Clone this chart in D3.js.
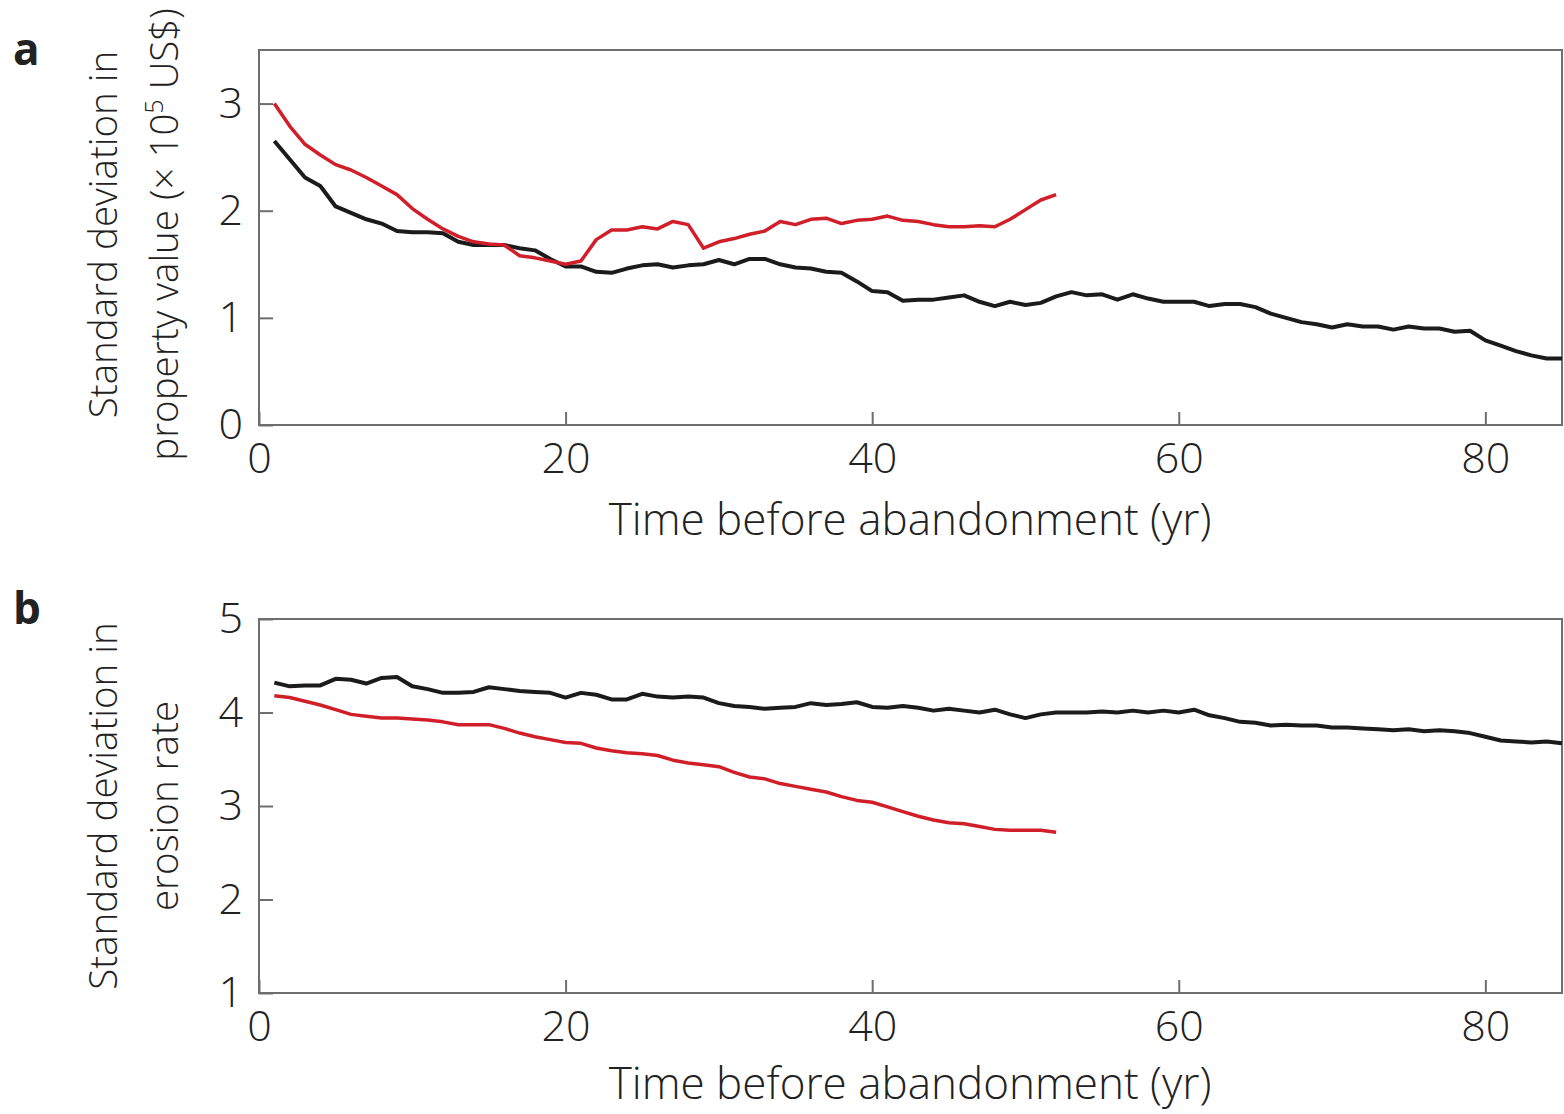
<!DOCTYPE html>
<html>
<head>
<meta charset="utf-8">
<script src="https://cdn.jsdelivr.net/npm/d3@7"></script>
<style>
  body { margin: 0; background: #fff; }
  svg text { font-family: "Open Sans", "DejaVu Sans", sans-serif; fill: #222; }
</style>
</head>
<body>
<svg id="svg" width="1564" height="1114"></svg>
<script>
// years before abandonment
var years = [1,2,3,4,5,6,7,8,9,10,11,12,13,14,15,16,17,18,19,20,21,22,23,24,25,26,27,28,29,30,
  31,32,33,34,35,36,37,38,39,40,41,42,43,44,45,46,47,48,49,50,51,52,53,54,55,56,57,58,59,60,
  61,62,63,64,65,66,67,68,69,70,71,72,73,74,75,76,77,78,79,80,81,82,83,84,85];

// panel a: property value (x 10^5 US$)
var propBlack = [2.65,2.48,2.31,2.23,2.04,1.98,1.92,1.88,1.81,1.80,1.80,1.79,1.71,1.68,1.68,1.68,1.65,1.63,1.55,1.48,
  1.48,1.43,1.42,1.46,1.49,1.50,1.47,1.49,1.50,1.54,1.50,1.55,1.55,1.50,1.47,1.46,1.43,1.42,1.34,1.25,
  1.24,1.16,1.17,1.17,1.19,1.21,1.15,1.11,1.15,1.12,1.14,1.20,1.24,1.21,1.22,1.17,1.22,1.18,1.15,1.15,
  1.15,1.11,1.13,1.13,1.10,1.04,1.00,0.96,0.94,0.91,0.94,0.92,0.92,0.89,0.92,0.90,0.90,0.87,0.88,0.79,
  0.74,0.69,0.65,0.62,0.62];
var propRed = [3.00,2.79,2.62,2.52,2.43,2.38,2.31,2.23,2.15,2.02,1.92,1.83,1.76,1.71,1.69,1.68,1.58,1.56,1.53,1.50,
  1.53,1.73,1.82,1.82,1.85,1.83,1.90,1.87,1.65,1.71,1.74,1.78,1.81,1.90,1.87,1.92,1.93,1.88,1.91,1.92,
  1.95,1.91,1.90,1.87,1.85,1.85,1.86,1.85,1.92,2.01,2.10,2.15];

// panel b: erosion rate
var eroBlack = [4.32,4.28,4.29,4.29,4.36,4.35,4.31,4.37,4.38,4.28,4.25,4.21,4.21,4.22,4.27,4.25,4.23,4.22,4.21,4.16,
  4.21,4.19,4.14,4.14,4.20,4.17,4.16,4.17,4.16,4.10,4.07,4.06,4.04,4.05,4.06,4.10,4.08,4.09,4.11,4.06,
  4.05,4.07,4.05,4.02,4.04,4.02,4.00,4.03,3.98,3.94,3.98,4.00,4.00,4.00,4.01,4.00,4.02,4.00,4.02,4.00,
  4.03,3.97,3.94,3.90,3.89,3.86,3.87,3.86,3.86,3.84,3.84,3.83,3.82,3.81,3.82,3.80,3.81,3.80,3.78,3.74,
  3.70,3.69,3.68,3.69,3.67];
var eroRed = [4.18,4.16,4.12,4.08,4.03,3.98,3.96,3.94,3.94,3.93,3.92,3.90,3.87,3.87,3.87,3.83,3.78,3.74,3.71,3.68,
  3.67,3.62,3.59,3.57,3.56,3.54,3.49,3.46,3.44,3.42,3.36,3.31,3.29,3.24,3.21,3.18,3.15,3.10,3.06,3.04,
  2.99,2.94,2.89,2.85,2.82,2.81,2.78,2.75,2.74,2.74,2.74,2.72];

var xTicks = [0, 20, 40, 60, 80];
var yTicksA = [0, 1, 2, 3];
var yTicksB = [1, 2, 3, 4, 5];

var svg = d3.select("#svg");
var left = 259, right = 1562;
var frameCol = "#6e6e6e";

var panel = function(cfg) {
    var g = svg.append("g");
    var x = d3.scaleLinear().domain([0, 85]).range([left, right]);
    var y = d3.scaleLinear().domain(cfg.yDomain).range([cfg.bottom, cfg.top]);

    // x axis, ticks pointing inward
    var xa = g.append("g")
        .attr("transform", "translate(0," + cfg.bottom + ")")
        .call(d3.axisBottom(x).tickValues(xTicks).tickSize(-13).tickPadding(17).tickFormat(d3.format("d")));
    xa.select(".domain").remove();
    xa.selectAll("line").attr("stroke", frameCol).attr("stroke-width", 2);
    xa.selectAll("text").attr("font-size", 43).attr("font-weight", 300).attr("fill", "#222");

    var ya = g.append("g")
        .attr("transform", "translate(" + left + ",0)")
        .call(d3.axisLeft(y).tickValues(cfg.yTicks).tickSize(-14).tickPadding(16).tickFormat(d3.format("d")));
    ya.select(".domain").remove();
    ya.selectAll("line").attr("stroke", frameCol).attr("stroke-width", 2);
    ya.selectAll("text").attr("font-size", 43).attr("font-weight", 300).attr("fill", "#222");

    // frame
    g.append("rect")
        .attr("x", left).attr("y", cfg.top)
        .attr("width", right - left).attr("height", cfg.bottom - cfg.top)
        .attr("fill", "none").attr("stroke", frameCol).attr("stroke-width", 2);

    var line = d3.line()
        .x(function(d, i) { return x(years[i]); })
        .y(function(d) { return y(d); });

    g.append("path").datum(cfg.black)
        .attr("d", line).attr("fill", "none")
        .attr("stroke", "#1b1b1b").attr("stroke-width", 4).attr("stroke-linejoin", "round");
    g.append("path").datum(cfg.red)
        .attr("d", line).attr("fill", "none")
        .attr("stroke", "#d11f2a").attr("stroke-width", 3.5).attr("stroke-linejoin", "round");

    // x title
    g.append("text")
        .attr("x", 910).attr("y", cfg.bottom + cfg.xTitleDy)
        .attr("text-anchor", "middle")
        .attr("font-size", 44).attr("font-weight", 300)
        .text("Time before abandonment (yr)");

    // y title (two lines)
    var cy = (cfg.top + cfg.bottom) / 2 + cfg.titleShift;
    g.append("text")
        .attr("transform", "translate(117," + cy + ")rotate(-90)")
        .attr("text-anchor", "middle")
        .attr("font-size", 38.5).attr("font-weight", 300)
        .text("Standard deviation in");
    var t2 = g.append("text")
        .attr("transform", "translate(178," + cy + ")rotate(-90)")
        .attr("text-anchor", "middle")
        .attr("font-size", 38.5).attr("font-weight", 300);
    cfg.title2(t2);

    // panel letter
    g.append("text")
        .attr("x", 13).attr("y", cfg.top + cfg.letterDy)
        .attr("font-size", 44).attr("font-weight", 700)
        .attr("fill", "#111")
        .text(cfg.letter);
};

panel({
    top: 50, bottom: 425, yDomain: [0, 3.5], yTicks: yTicksA,
    black: propBlack, red: propRed, letter: "a", letterDy: 15, titleShift: -3, xTitleDy: 110,
    title2: function(t) {
        t.append("tspan").text("property value (\u00d7 10");
        t.append("tspan").attr("font-size", 25).attr("dy", -15).text("5");
        t.append("tspan").attr("dy", 15).text(" US$)");
    }
});

panel({
    top: 619, bottom: 993, yDomain: [1, 5], yTicks: yTicksB,
    black: eroBlack, red: eroRed, letter: "b", letterDy: 5, titleShift: 0, xTitleDy: 106,
    title2: function(t) { t.text("erosion rate"); }
});
</script>
</body>
</html>
